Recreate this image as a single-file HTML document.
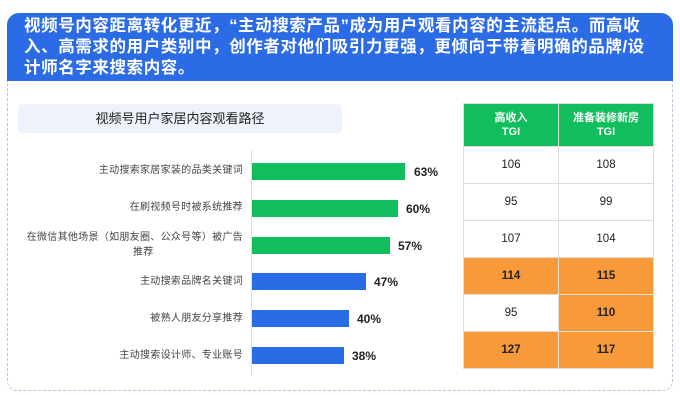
<!DOCTYPE html>
<html><head><meta charset="utf-8"><style>
body{margin:0;width:680px;height:400px;background:#fff;position:relative;overflow:hidden;font-family:"Liberation Sans","Noto Sans CJK SC",sans-serif}
.hdr{position:absolute;left:7px;top:13px;width:666px;height:68px;background:#2b6be6;border-radius:12px 12px 0 0;color:#fff;font-weight:bold;font-size:16.5px;line-height:21px;padding:3px 22px 0 17px;box-sizing:border-box;letter-spacing:0.6px}
.card{position:absolute;left:7px;top:81px;width:666px;height:310px;border:1px dashed #b8c4dc;border-top:none;border-radius:0 0 10px 10px;box-sizing:border-box}
.tt{position:absolute;left:18px;top:104px;width:324px;height:29px;background:#eef2fb;border-radius:4px;text-align:center;line-height:29px;font-size:13px;color:#222}
.axis{position:absolute;left:251px;top:150px;width:1px;height:225px;background:#ddd}
.bar{position:absolute;left:252px;height:17px}
.g{background:#10bf5b}.b{background:#2a6be6}
.lbl{position:absolute;right:437px;font-size:10px;color:#444;text-align:right;line-height:14px;white-space:nowrap;letter-spacing:0.3px}
.pct{position:absolute;font-size:12px;font-weight:bold;color:#222}
table{position:absolute;left:463px;top:103px;border-collapse:collapse;font-size:11.5px}
td{border:1px solid #ddd;width:92px;height:36px;text-align:center;padding:0;color:#222}
th{background:#10bf5b;color:#fff;border:1px solid #ddd;height:40px;font-size:11px;line-height:14px;width:92px}
.o{background:#f89a3a;font-weight:bold}
</style></head><body>
<div class="hdr">视频号内容距离转化更近，“主动搜索产品”成为用户观看内容的主流起点。而高收入、高需求的用户类别中，创作者对他们吸引力更强，更倾向于带着明确的品牌/设计师名字来搜索内容。</div>
<div class="card"></div>
<div class="tt">视频号用户家居内容观看路径</div>
<div class="axis"></div>
<div class="bar g" style="top:163px;width:153px"></div><div class="pct" style="left:414px;top:165px">63%</div>
<div class="bar g" style="top:200px;width:146px"></div><div class="pct" style="left:406px;top:202px">60%</div>
<div class="bar g" style="top:237px;width:138px"></div><div class="pct" style="left:398px;top:239px">57%</div>
<div class="bar b" style="top:273px;width:114px"></div><div class="pct" style="left:374px;top:275px">47%</div>
<div class="bar b" style="top:310px;width:97px"></div><div class="pct" style="left:357px;top:312px">40%</div>
<div class="bar b" style="top:347px;width:92px"></div><div class="pct" style="left:352px;top:349px">38%</div>
<div class="lbl" style="top:164px">主动搜索家居家装的品类关键词</div>
<div class="lbl" style="top:201px">在刷视频号时被系统推荐</div>
<div class="lbl" style="top:231px">在微信其他场景（如朋友圈、公众号等）被广告</div>
<div class="lbl" style="top:246px;left:133px;right:auto">推荐</div>
<div class="lbl" style="top:275px">主动搜索品牌名关键词</div>
<div class="lbl" style="top:312px">被熟人朋友分享推荐</div>
<div class="lbl" style="top:349px">主动搜索设计师、专业账号</div>
<table>
<tr><th>高收入<br>TGI</th><th>准备装修新房<br>TGI</th></tr>
<tr><td>106</td><td>108</td></tr>
<tr><td>95</td><td>99</td></tr>
<tr><td>107</td><td>104</td></tr>
<tr><td class="o">114</td><td class="o">115</td></tr>
<tr><td>95</td><td class="o">110</td></tr>
<tr><td class="o">127</td><td class="o">117</td></tr>
</table>
</body></html>
